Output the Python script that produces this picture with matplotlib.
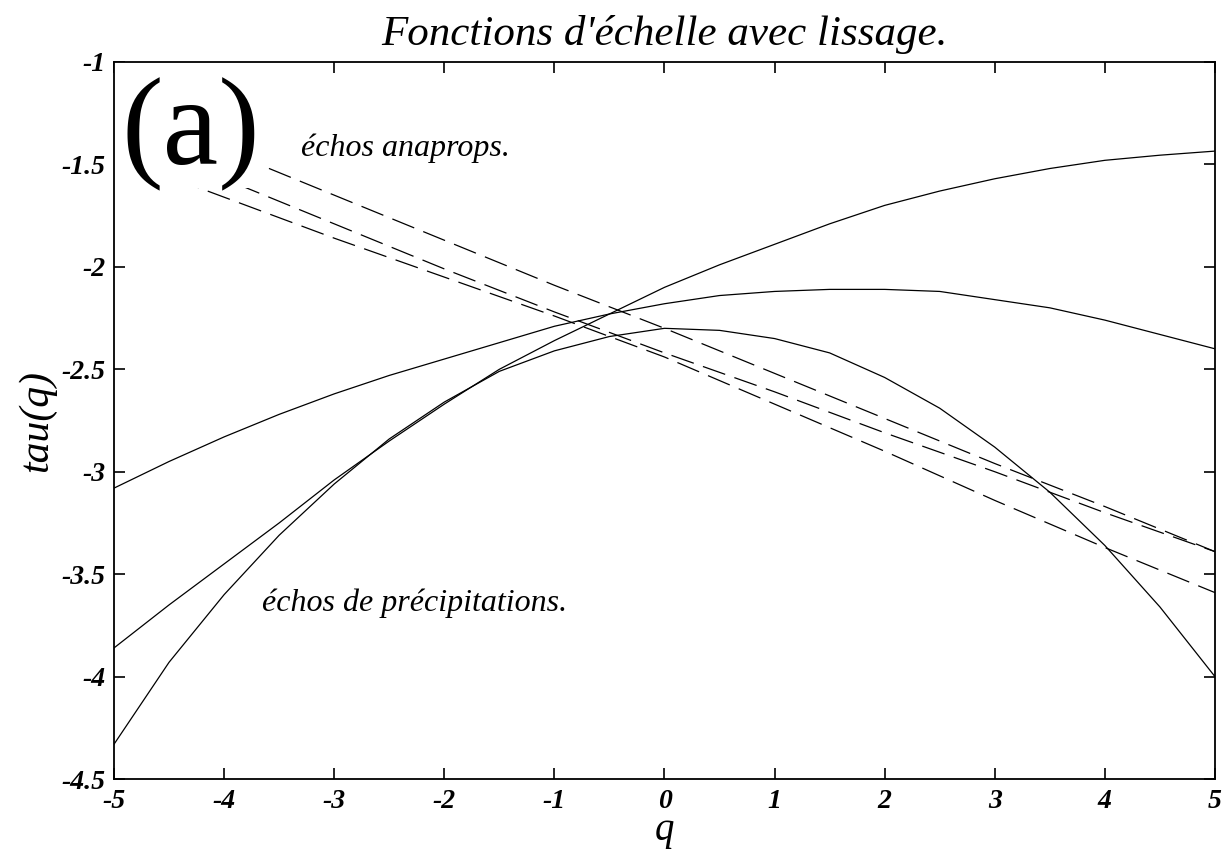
import numpy as np
import matplotlib.pyplot as plt
from matplotlib.patches import Rectangle

plt.rcParams['lines.scale_dashes'] = False

# q grid for the smoothed precipitation curves (solid)
q_solid = [-5, -4.5, -4, -3.5, -3, -2.5, -2, -1.5, -1, -0.5, 0,
           0.5, 1, 1.5, 2, 2.5, 3, 3.5, 4, 4.5, 5]
tau_prec_1 = [-3.86, -3.65, -3.45, -3.25, -3.04, -2.85, -2.67, -2.50, -2.36, -2.23, -2.10,
              -1.99, -1.89, -1.79, -1.70, -1.63, -1.57, -1.52, -1.48, -1.455, -1.435]
tau_prec_2 = [-3.08, -2.95, -2.83, -2.72, -2.62, -2.53, -2.45, -2.37, -2.29, -2.23, -2.18,
              -2.14, -2.12, -2.11, -2.11, -2.12, -2.16, -2.20, -2.26, -2.33, -2.40]
tau_prec_3 = [-4.33, -3.93, -3.60, -3.31, -3.06, -2.84, -2.66, -2.51, -2.41, -2.34, -2.30,
              -2.31, -2.35, -2.42, -2.54, -2.69, -2.88, -3.10, -3.36, -3.66, -4.00]

# anaprop echoes (dashed)
q_dash = [-5, -4, -3, -2, -1, 0, 1, 2, 3, 4, 5]
tau_ana_1 = [-1.22, -1.43, -1.65, -1.87, -2.09, -2.30, -2.52, -2.74, -2.96, -3.17, -3.39]
tau_ana_2 = [-1.35, -1.57, -1.79, -2.01, -2.22, -2.42, -2.61, -2.81, -3.00, -3.20, -3.39]
tau_ana_3 = [-1.46, -1.66, -1.86, -2.05, -2.24, -2.44, -2.67, -2.90, -3.14, -3.37, -3.59]

serif = 'Liberation Serif'

fig = plt.figure(figsize=(12.26, 8.49), dpi=100)
ax = fig.add_axes([0.093, 0.0824, 0.898, 0.8446])

for t in [tau_prec_1, tau_prec_2, tau_prec_3]:
    ax.plot(q_solid, t, color='black', lw=0.9)
for t in [tau_ana_1, tau_ana_2, tau_ana_3]:
    ax.plot(q_dash, t, color='black', lw=0.9, dashes=(17, 7))

ax.set_xlim(-5, 5)
ax.set_ylim(-4.5, -1)
ax.set_xticks(np.arange(-5, 6, 1))
ax.set_yticks(np.arange(-4.5, -0.9, 0.5))
ax.set_xticklabels([str(v) for v in range(-5, 6)])
ax.set_yticklabels(['-4.5', '-4', '-3.5', '-3', '-2.5', '-2', '-1.5', '-1'])
ax.tick_params(direction='in', length=8, width=1.2, top=True, right=True)
ax.tick_params(axis='x', pad=7)
ax.tick_params(axis='y', pad=6)
for lab in ax.get_xticklabels() + ax.get_yticklabels():
    lab.set_family(serif)
    lab.set_style('italic')
    lab.set_weight('bold')
    lab.set_fontsize(20)
for s in ax.spines.values():
    s.set_linewidth(1.3)

ax.set_title("Fonctions d'échelle avec lissage.", family=serif, style='italic',
             fontsize=31, pad=12)
ax.set_xlabel('q', family=serif, style='italic', fontsize=28, labelpad=-1)
ax.set_ylabel('tau(q)', family=serif, style='italic', fontsize=30, labelpad=4)

# white box behind the panel label hides the dashed lines there
ax.add_patch(Rectangle((-5, -1.615), 1.35, 0.615, facecolor='white',
                       edgecolor='none', zorder=2.2))
ax.text(-4.93, -1.63, '(a)', family=serif, fontsize=90, va='bottom', ha='left',
        zorder=3)
ax.text(-3.3, -1.42, 'échos anaprops.', family=serif, style='italic', fontsize=23,
        va='center')
ax.text(-3.66, -3.64, 'échos de précipitations.', family=serif, style='italic',
        fontsize=23, va='center')

fig.savefig('out.png', dpi=100)
